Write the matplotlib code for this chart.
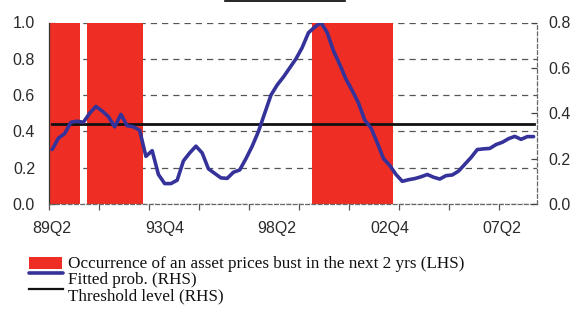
import matplotlib
matplotlib.use("Agg")
import matplotlib.pyplot as plt
from matplotlib.lines import Line2D
from matplotlib.patches import Rectangle
import numpy as np

# ---------------- data ----------------
# quarterly categories 1989Q2 .. 2008Q3 (78 quarters)
tick_labels = ["89Q2", "93Q4", "98Q2", "02Q4", "07Q2"]
label_positions = [0, 18, 36, 54, 72]

# occurrence of an asset price bust in the next 2 yrs (LHS, 0/1)
bust = ([1] * 5 + [0] + [1] * 9 + [0] * 27 + [1] * 13 + [0] * 23)

# fitted probability (RHS)
fitted = [0.24, 0.29, 0.31, 0.36, 0.365, 0.36, 0.40, 0.43, 0.41, 0.385,
          0.34, 0.395, 0.345, 0.34, 0.325, 0.21, 0.235, 0.13, 0.09, 0.09,
          0.105, 0.19, 0.225, 0.255, 0.225, 0.155, 0.135, 0.115, 0.113, 0.14,
          0.15, 0.20, 0.255, 0.32, 0.40, 0.48, 0.525, 0.56, 0.60, 0.64,
          0.69, 0.755, 0.78, 0.80, 0.755, 0.675, 0.615, 0.55, 0.50, 0.445,
          0.37, 0.335, 0.27, 0.20, 0.17, 0.13, 0.10, 0.107, 0.112, 0.12,
          0.13, 0.118, 0.11, 0.125, 0.128, 0.145, 0.175, 0.205, 0.24, 0.243,
          0.245, 0.262, 0.272, 0.288, 0.298, 0.285, 0.297, 0.297]

threshold = 0.352

left_ticks = [0.0, 0.2, 0.4, 0.6, 0.8, 1.0]
right_ticks = [0.0, 0.2, 0.4, 0.6, 0.8]

legend_labels = ["Occurrence of an asset prices bust in the next 2 yrs (LHS)",
                 "Fitted prob. (RHS)",
                 "Threshold level (RHS)"]

# ---------------- style ----------------
RED = "#ee2e24"
BLUE = "#35329a"
GRID = "#555555"
TXT = "#2a2a2a"
sans = ["Liberation Sans", "DejaVu Sans"]
serif = ["Liberation Serif", "DejaVu Serif"]
W, H = 577, 313

n = len(fitted)
x = np.arange(n)

fig = plt.figure(figsize=(W / 100, H / 100), dpi=100)
ax = fig.add_axes([49 / W, 1 - 204 / H, (536.7 - 49) / W, 181.5 / H])

ax.bar(x, bust, width=1.0, color=RED, linewidth=0, zorder=2)
ax.set_xlim(-0.5, n - 0.5)
ax.set_ylim(0, 1.0)
ax.set_axisbelow(True)
ax.set_yticks(left_ticks)
ax.set_yticklabels([f"{v:.1f}" for v in left_ticks], fontfamily=sans,
                   fontsize=11.5, color=TXT)
ax.yaxis.grid(True, color=GRID, linestyle=(0, (5, 4)), linewidth=0.9)
ax.tick_params(axis="y", direction="in", length=4, width=0.9, color="#444444",
               pad=10)

ax.set_xticks(label_positions)
ax.set_xticklabels(tick_labels, fontfamily=sans, fontsize=11.5, color=TXT)
ax.tick_params(axis="x", which="major", length=0, pad=12.5)
ax.set_xticks(np.arange(-0.5, n - 1, 8), minor=True)
ax.tick_params(axis="x", which="minor", direction="out", length=4,
               width=0.9, color="#555555")

for s in ["top", "right"]:
    ax.spines[s].set_visible(False)
ax.spines["left"].set_color("#333333")
ax.spines["left"].set_linewidth(0.9)
ax.spines["bottom"].set_color("#666666")
ax.spines["bottom"].set_linestyle((0, (3, 2)))
ax.spines["bottom"].set_linewidth(0.9)

ax2 = ax.twinx()
ax2.plot(x, [threshold] * n, color="#111111", linewidth=2.0, zorder=3)
ax2.plot(x, fitted, color=BLUE, linewidth=2.6, zorder=4,
         solid_joinstyle="round", solid_capstyle="round")
ax2.set_ylim(0, 0.8)
ax2.set_yticks(right_ticks)
ax2.set_yticklabels([f"{v:.1f}" for v in right_ticks], fontfamily=sans,
                    fontsize=11.5, color=TXT)
ax2.tick_params(axis="y", direction="in", length=4, width=0.9,
                color="#444444", pad=8.5)
for s in ["top", "left", "bottom"]:
    ax2.spines[s].set_visible(False)
ax2.spines["right"].set_color("#666666")
ax2.spines["right"].set_linestyle((0, (3, 2)))
ax2.spines["right"].set_linewidth(0.9)

# ---- legend (drawn below the plot in figure pixel coordinates) ----
def fx(px):
    return px / W

def fy(py):
    return 1 - py / H

fig.add_artist(Rectangle((fx(29), fy(269)), fx(33), 12 / H,
                         transform=fig.transFigure, facecolor=RED,
                         edgecolor="none"))
fig.add_artist(Line2D([fx(29), fx(63)], [fy(273)] * 2,
                      transform=fig.transFigure, color=BLUE, linewidth=2.6,
                      solid_capstyle="round"))
fig.add_artist(Line2D([fx(29), fx(63)], [fy(289)] * 2,
                      transform=fig.transFigure, color="#111111",
                      linewidth=1.6))
for lbl, yc in zip(legend_labels, [264, 280, 296]):
    fig.text(fx(67.5), fy(yc), lbl, fontfamily=serif, fontsize=12.3,
             color="#111111", va="center", ha="left")

# title underline fragment at the very top
fig.add_artist(Line2D([fx(225), fx(345)], [fy(1.2)] * 2,
                      transform=fig.transFigure, color="black", linewidth=1.2))

fig.savefig("out.png", dpi=100)
